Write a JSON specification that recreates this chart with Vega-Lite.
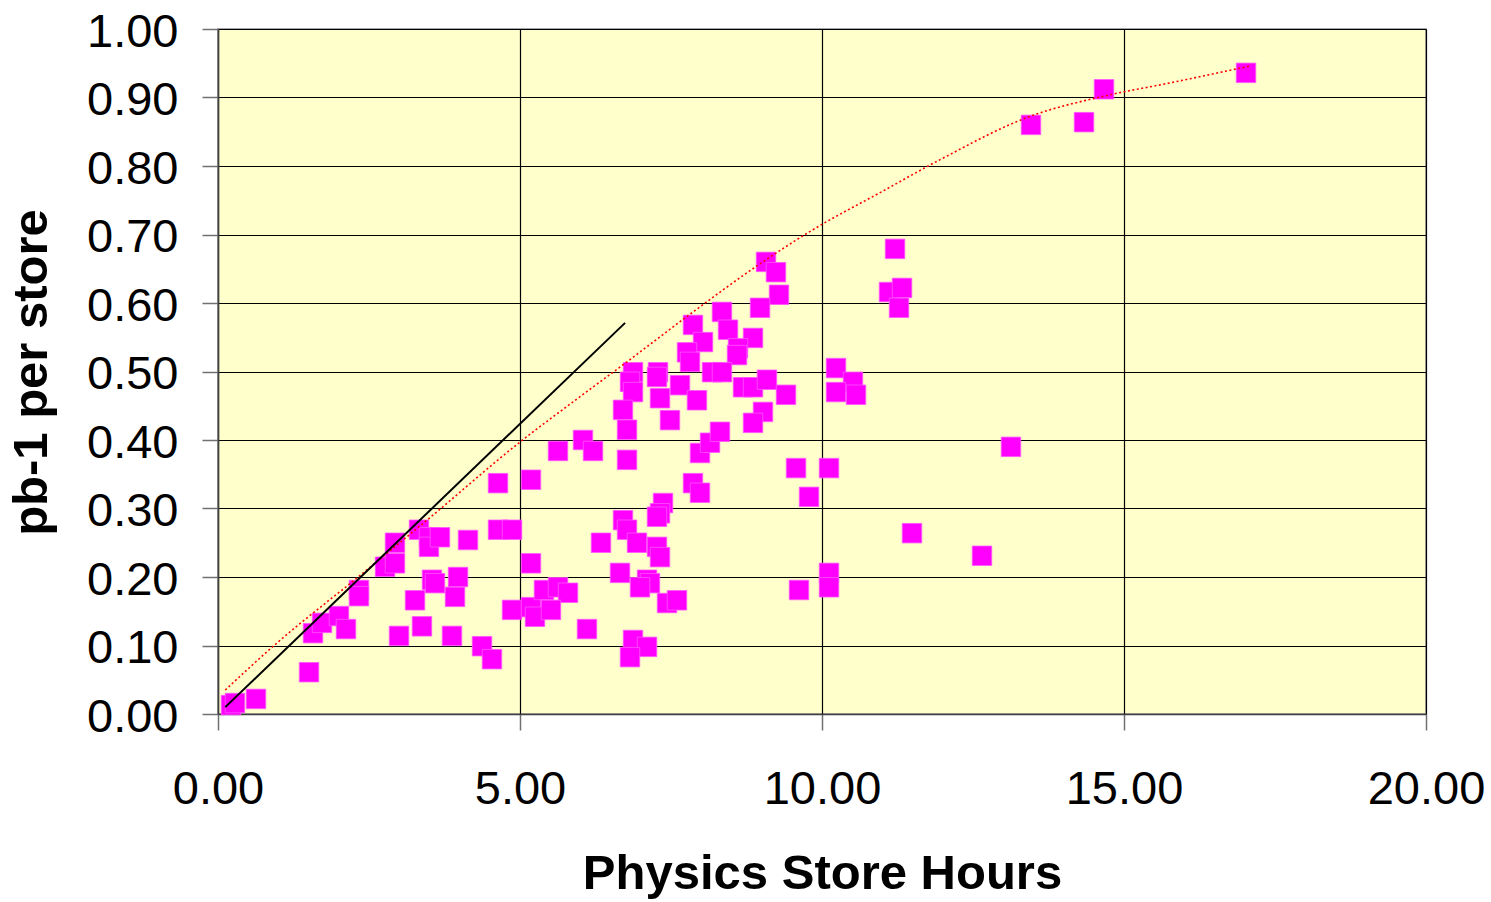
{
  "$schema": "https://vega.github.io/schema/vega-lite/v6.json",
  "autosize": "none",
  "width": 1208,
  "height": 685,
  "padding": {"left": 218, "top": 29, "right": 65, "bottom": 188},
  "background": "white",
  "config": {
    "view": {"fill": "#FFFFCC", "stroke": "#8C8C8C", "strokeWidth": 1.5},
    "axis": {
      "labelFont": "Liberation Sans",
      "labelFontSize": 47,
      "labelColor": "black",
      "labelFlush": false,
      "titleFont": "Liberation Sans",
      "titleFontSize": 49,
      "titleFontWeight": "bold",
      "titleColor": "black",
      "grid": true,
      "gridColor": "black",
      "gridWidth": 1.2,
      "gridOpacity": 1,
      "tickSize": 16,
      "tickColor": "#707070",
      "tickWidth": 1.5,
      "domainColor": "#404040",
      "domainWidth": 1.5
    }
  },
  "datasets": {
    "stores": [
      {"hours": 0.215, "pb": 0.013}, {"hours": 0.281, "pb": 0.016}, {"hours": 0.629, "pb": 0.022},
      {"hours": 1.507, "pb": 0.061}, {"hours": 1.573, "pb": 0.118}, {"hours": 1.722, "pb": 0.133},
      {"hours": 2.003, "pb": 0.143}, {"hours": 2.119, "pb": 0.124}, {"hours": 2.334, "pb": 0.181},
      {"hours": 2.334, "pb": 0.172}, {"hours": 2.765, "pb": 0.215}, {"hours": 2.930, "pb": 0.250},
      {"hours": 2.930, "pb": 0.220}, {"hours": 2.997, "pb": 0.114}, {"hours": 3.262, "pb": 0.166},
      {"hours": 3.328, "pb": 0.269}, {"hours": 3.377, "pb": 0.128}, {"hours": 3.493, "pb": 0.258},
      {"hours": 3.493, "pb": 0.244}, {"hours": 3.675, "pb": 0.258}, {"hours": 3.543, "pb": 0.196},
      {"hours": 3.593, "pb": 0.191}, {"hours": 3.974, "pb": 0.200}, {"hours": 3.924, "pb": 0.171},
      {"hours": 3.874, "pb": 0.114}, {"hours": 4.139, "pb": 0.254}, {"hours": 4.371, "pb": 0.099},
      {"hours": 4.536, "pb": 0.080}, {"hours": 4.636, "pb": 0.337}, {"hours": 4.636, "pb": 0.269},
      {"hours": 4.868, "pb": 0.269}, {"hours": 4.868, "pb": 0.152}, {"hours": 5.182, "pb": 0.342},
      {"hours": 5.182, "pb": 0.220}, {"hours": 5.182, "pb": 0.156}, {"hours": 5.248, "pb": 0.142},
      {"hours": 5.397, "pb": 0.181}, {"hours": 5.629, "pb": 0.185}, {"hours": 5.795, "pb": 0.177},
      {"hours": 5.513, "pb": 0.152}, {"hours": 5.629, "pb": 0.384}, {"hours": 6.043, "pb": 0.400},
      {"hours": 6.209, "pb": 0.384}, {"hours": 6.341, "pb": 0.250}, {"hours": 6.109, "pb": 0.124},
      {"hours": 9.073, "pb": 0.660}, {"hours": 9.238, "pb": 0.645}, {"hours": 9.288, "pb": 0.612},
      {"hours": 8.974, "pb": 0.593}, {"hours": 8.344, "pb": 0.587}, {"hours": 8.444, "pb": 0.561},
      {"hours": 7.864, "pb": 0.568}, {"hours": 8.030, "pb": 0.543}, {"hours": 8.858, "pb": 0.549},
      {"hours": 7.765, "pb": 0.528}, {"hours": 8.609, "pb": 0.534}, {"hours": 7.815, "pb": 0.514},
      {"hours": 8.593, "pb": 0.524}, {"hours": 8.179, "pb": 0.499}, {"hours": 8.344, "pb": 0.499},
      {"hours": 6.871, "pb": 0.499}, {"hours": 7.285, "pb": 0.499}, {"hours": 6.821, "pb": 0.485},
      {"hours": 7.268, "pb": 0.492}, {"hours": 6.871, "pb": 0.470}, {"hours": 7.318, "pb": 0.461},
      {"hours": 7.649, "pb": 0.480}, {"hours": 7.930, "pb": 0.458}, {"hours": 6.705, "pb": 0.444},
      {"hours": 6.772, "pb": 0.415}, {"hours": 7.483, "pb": 0.429}, {"hours": 6.772, "pb": 0.371},
      {"hours": 7.980, "pb": 0.381}, {"hours": 8.146, "pb": 0.396}, {"hours": 8.692, "pb": 0.477},
      {"hours": 8.858, "pb": 0.477}, {"hours": 9.089, "pb": 0.488}, {"hours": 9.404, "pb": 0.466},
      {"hours": 9.023, "pb": 0.441}, {"hours": 8.858, "pb": 0.425}, {"hours": 8.311, "pb": 0.412},
      {"hours": 7.864, "pb": 0.337}, {"hours": 7.980, "pb": 0.323}, {"hours": 10.232, "pb": 0.505},
      {"hours": 10.513, "pb": 0.485}, {"hours": 10.563, "pb": 0.466}, {"hours": 10.232, "pb": 0.470},
      {"hours": 9.570, "pb": 0.359}, {"hours": 10.116, "pb": 0.359}, {"hours": 9.785, "pb": 0.317},
      {"hours": 7.368, "pb": 0.308}, {"hours": 7.318, "pb": 0.293}, {"hours": 7.268, "pb": 0.288},
      {"hours": 6.705, "pb": 0.283}, {"hours": 6.772, "pb": 0.269}, {"hours": 6.937, "pb": 0.250},
      {"hours": 7.268, "pb": 0.244}, {"hours": 7.318, "pb": 0.229}, {"hours": 6.656, "pb": 0.206},
      {"hours": 7.103, "pb": 0.196}, {"hours": 7.152, "pb": 0.191}, {"hours": 6.987, "pb": 0.185},
      {"hours": 7.434, "pb": 0.162}, {"hours": 7.599, "pb": 0.166}, {"hours": 6.871, "pb": 0.108},
      {"hours": 7.103, "pb": 0.098}, {"hours": 6.821, "pb": 0.083}, {"hours": 9.619, "pb": 0.181},
      {"hours": 10.116, "pb": 0.206}, {"hours": 10.116, "pb": 0.185}, {"hours": 11.209, "pb": 0.679},
      {"hours": 11.109, "pb": 0.616}, {"hours": 11.325, "pb": 0.622}, {"hours": 11.275, "pb": 0.593},
      {"hours": 13.129, "pb": 0.390}, {"hours": 11.490, "pb": 0.264}, {"hours": 12.649, "pb": 0.231},
      {"hours": 17.020, "pb": 0.936}, {"hours": 14.669, "pb": 0.912}, {"hours": 13.460, "pb": 0.860},
      {"hours": 14.338, "pb": 0.864}
    ],
    "trend": [
      {"hours": 0.12, "pb": 0.035}, {"hours": 0.98, "pb": 0.104}, {"hours": 2.32, "pb": 0.200},
      {"hours": 3.46, "pb": 0.283}, {"hours": 5.0, "pb": 0.397}, {"hours": 5.99, "pb": 0.463},
      {"hours": 6.74, "pb": 0.512}, {"hours": 7.76, "pb": 0.580}, {"hours": 8.97, "pb": 0.657},
      {"hours": 9.85, "pb": 0.707}, {"hours": 11.0, "pb": 0.763}, {"hours": 11.95, "pb": 0.809},
      {"hours": 13.46, "pb": 0.873}, {"hours": 14.67, "pb": 0.902}, {"hours": 15.8, "pb": 0.922},
      {"hours": 17.09, "pb": 0.946}
    ],
    "limit": [
      {"hours": 0.12, "pb": 0.010}, {"hours": 6.74, "pb": 0.571}
    ]
  },
  "encoding": {
    "x": {
      "field": "hours", "type": "quantitative",
      "scale": {"domain": [0, 20], "nice": false, "zero": false},
      "axis": {
        "title": "Physics Store Hours",
        "values": [0, 5, 10, 15, 20],
        "format": ".2f",
        "labelPadding": 36,
        "titleBaseline": "alphabetic",
        "titleX": 604,
        "titleY": 174,
        "titleAnchor": "middle"
      }
    },
    "y": {
      "field": "pb", "type": "quantitative",
      "scale": {"domain": [0, 1], "nice": false, "zero": false},
      "axis": {
        "title": "pb-1 per store",
        "values": [0, 0.1, 0.2, 0.3, 0.4, 0.5, 0.6, 0.7, 0.8, 0.9, 1.0],
        "format": ".2f",
        "labelPadding": 24,
        "labelOffset": 3,
        "titleBaseline": "alphabetic",
        "titleAngle": -90,
        "titleX": -172,
        "titleY": 343,
        "titleAnchor": "middle"
      }
    }
  },
  "layer": [
    {
      "data": {"name": "stores"},
      "mark": {"type": "point", "shape": "square", "filled": true, "size": 380, "color": "#FF00FF", "opacity": 1, "stroke": "#FF55FF", "strokeWidth": 0.8}
    },
    {
      "data": {"name": "trend"},
      "mark": {"type": "line", "color": "#FF0000", "strokeWidth": 1.6, "strokeDash": [2, 2.5], "interpolate": "monotone"}
    },
    {
      "data": {"name": "limit"},
      "mark": {"type": "line", "color": "black", "strokeWidth": 2}
    }
  ]
}
